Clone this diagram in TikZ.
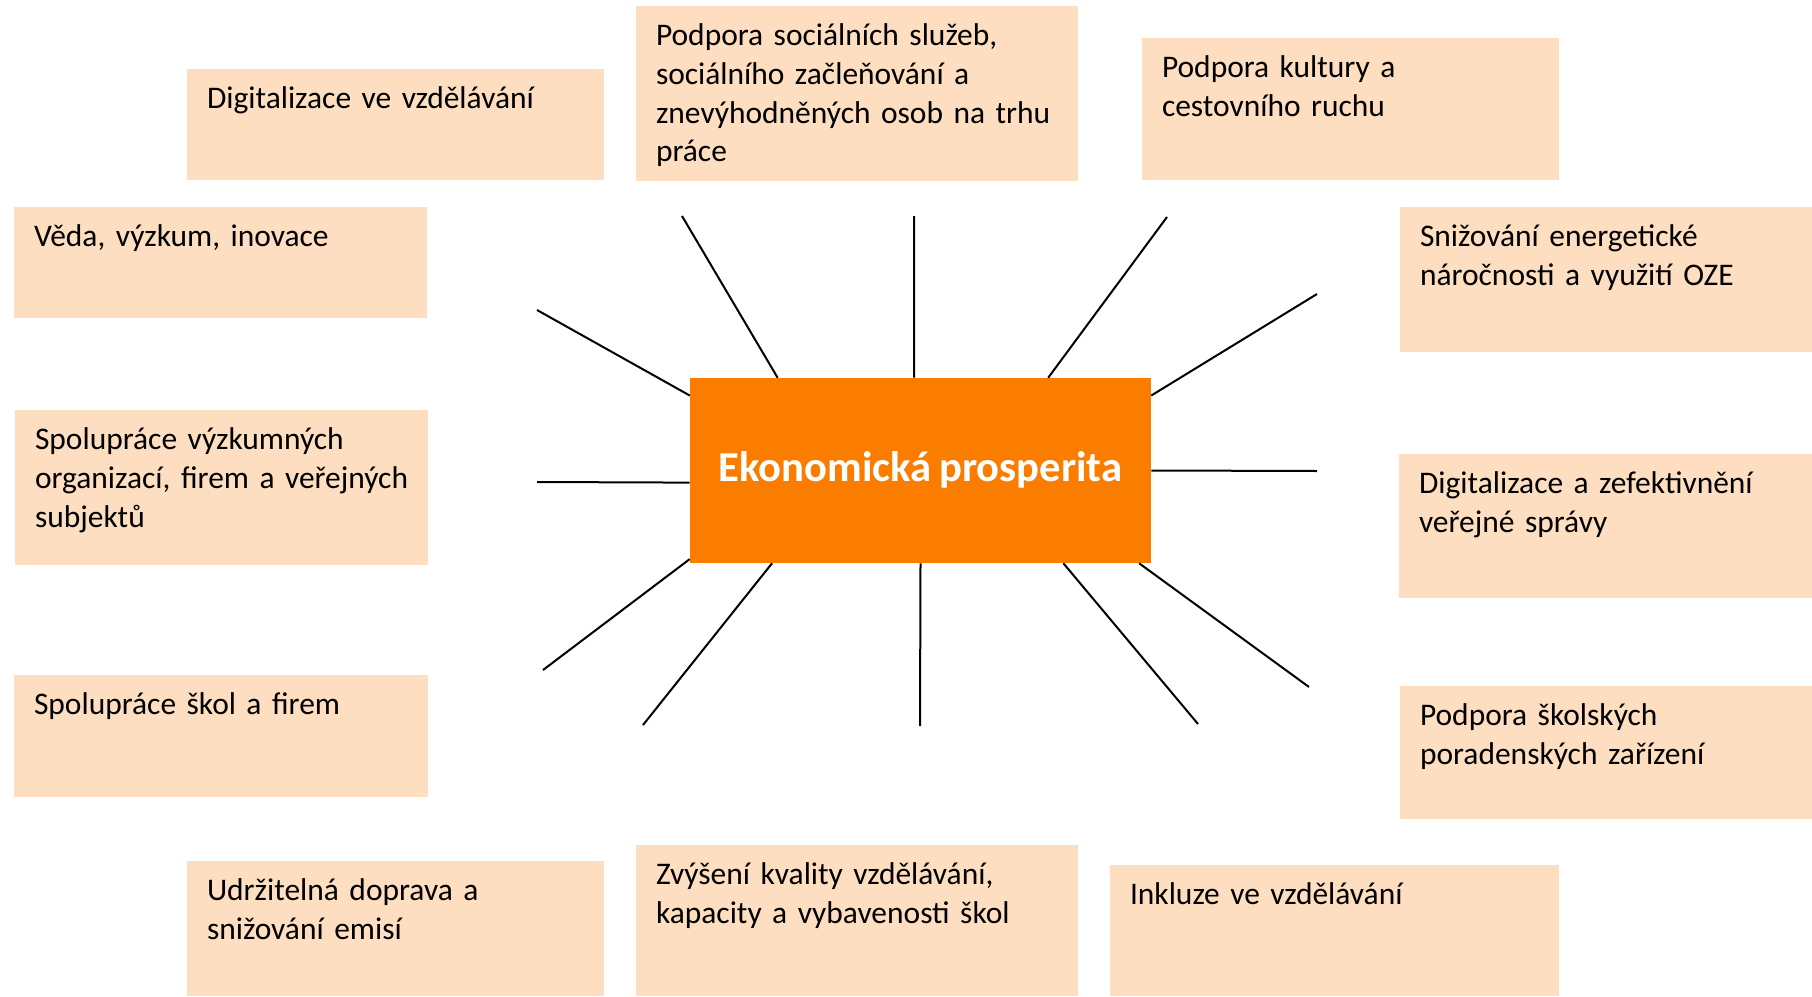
\documentclass[tikz,border=0pt]{standalone}
\usepackage{fontspec}
\setmainfont{Carlito}[WordSpace=0.8]
\usetikzlibrary{fit}
\definecolor{peach}{HTML}{FDDEC0}
\definecolor{hubor}{HTML}{FA7D00}
\tikzset{
	topic/.style={
		rectangle,
		fill=peach,
		inner sep=0pt
	},
	topictxt/.style={
		anchor=base west,
		inner sep=0pt,
		text width=400pt,
		align=left,
		font=\fontsize{23.6}{29}\selectfont
	},
	hub/.style={
		rectangle,
		fill=hubor,
		inner sep=0pt,
		minimum width=345.75pt,
		minimum height=138.75pt,
		text=white,
		text height=16pt,
		text depth=0pt,
		font=\fontsize{32}{38}\selectfont\bfseries
	},
	spoke/.style={
		line width=1.5pt
	}
}

\begin{document}
\begin{tikzpicture}[x=0.75pt, y=-0.75pt]
\useasboundingbox (0,0) rectangle (1812,996);

% boxes round the hub: name/left/top/right/bottom/text
\foreach \n/\l/\t/\r/\b/\txt in {
	dig/187/69/604/180/{Digitalizace ve vzdělávání},
	soc/636/6/1078/181/{Podpora sociálních služeb,\\sociálního začleňování a\\znevýhodněných osob na trhu\\práce},
	kul/1142/38/1559/180/{Podpora kultury a\\cestovního ruchu},
	veda/14/207/427/318/{Věda, výzkum, inovace},
	ener/1400/207/1812/352/{Snižování energetické\\náročnosti a využití OZE},
	vyzk/15/410/428/565/{Spolupráce výzkumných\\organizací, firem a veřejných\\subjektů},
	sprava/1399/454/1812/598/{Digitalizace a zefektivnění\\veřejné správy},
	firmy/14/675/428/797/{Spolupráce škol a firem},
	porad/1400/686/1812/819/{Podpora školských\\poradenských zařízení},
	dopr/187/861/604/996/{Udržitelná doprava a\\snižování emisí},
	kval/636/845/1078/996/{Zvýšení kvality vzdělávání,\\kapacity a vybavenosti škol},
	inkl/1110/865/1559/996/{Inkluze ve vzdělávání}
} {
	\node[topic, fit={(\l,\t) (\r,\b)}] (\n) {};
	\node[topictxt] (\n-t) at ([shift={(20,40)}]\n.north west) {\txt};
}

\node[hub] (eko) at (920.5,470.5) {Ekonomická prosperita};

% free ends of the spokes
\coordinate (e1) at (537,310);
\coordinate (e2) at (682,216);
\coordinate (e3) at (914,216);
\coordinate (e4) at (1167,217);
\coordinate (e5) at (1317,294);
\coordinate (e6) at (1317,471);
\coordinate (e7) at (537,482);
\coordinate (e8) at (543,670);
\coordinate (e9) at (643,725);
\coordinate (e10) at (920,726);
\coordinate (e11) at (1198,724);
\coordinate (e12) at (1309,687);

\foreach \a/\e in {162.8/e1, 147.7/e2, 94/e3, 36.4/e4, 18.6/e5, 0/e6,
	-177.1/e7, 201.2/e8, 212.3/e9, 270.3/e10, 327.5/e11, 337.5/e12} {
	\draw[spoke] (eko.\a) -- (\e);
}
\end{tikzpicture}
\end{document}
